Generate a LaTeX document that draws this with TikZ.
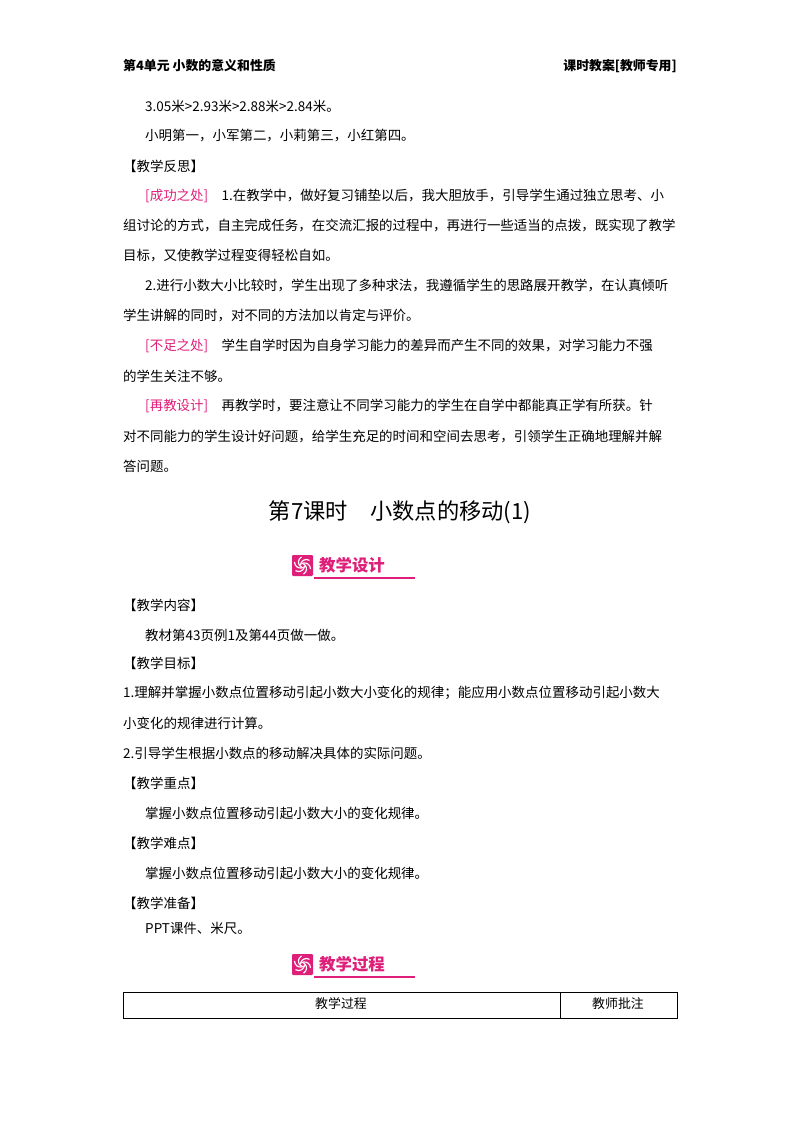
\documentclass[tikz,border=0pt]{standalone}
\usepackage{fontspec}
\setmainfont{Noto Sans CJK SC}
\definecolor{bannerpink}{RGB}{222,30,120}
\tikzset{
  body/.style={anchor=west, inner sep=0pt, font=\fontsize{11.5pt}{12pt}\selectfont},
  heading/.style={body, font=\fontsize{11pt}{12pt}\selectfont\bfseries},
  bannertext/.style={anchor=west, inner sep=0pt, text=bannerpink, font=\fontsize{14pt}{15pt}\selectfont\bfseries}
}
\newcommand{\banner}[3]{%
  \fill[bannerpink, rounded corners=1pt] (#1,#2) rectangle ++(21,21);
  \foreach \a in {0,60,...,300}
    \draw[white, line width=1pt] (#1+10.5,#2+10.5) ++(\a:2) arc[start angle=\a, end angle=\a+120, radius=6];
  \node[bannertext] (#3) at (#1+27,#2+10.5) {#3};
  \draw[bannerpink, line width=1pt] (#1+22,#2+23) -- (#1+123,#2+23);
}
\begin{document}
\begin{tikzpicture}[x=0.03cm, y=-0.03cm]
\useasboundingbox (0,0) rectangle (800,1132);
% header
\node[heading] (unit) at (123,66) {第4单元\ 小数的意义和性质};
\node[anchor=east, inner sep=0pt, font=\fontsize{11pt}{12pt}\selectfont\bfseries] (kind) at (677,66) {课时教案[教师专用]};
% previous lesson
\node[body] (cmp) at (145,106) {3.05米>2.93米>2.88米>2.84米。};
\node[body] (rank) at (145,136) {小明第一，小军第二，小莉第三，小红第四。};
\node[body] (fs) at (123,166) {【教学反思】};
\node[body] (l1) at (145,196) {\textcolor{bannerpink}{[成功之处]}\quad 1.在教学中，做好复习铺垫以后，我大胆放手，引导学生通过独立思考、小};
\node[body] (l2) at (123,226) {组讨论的方式，自主完成任务，在交流汇报的过程中，再进行一些适当的点拨，既实现了教学};
\node[body] (l3) at (123,256) {目标，又使教学过程变得轻松自如。};
\node[body] (l4) at (145,286) {2.进行小数大小比较时，学生出现了多种求法，我遵循学生的思路展开教学，在认真倾听};
\node[body] (l5) at (123,316) {学生讲解的同时，对不同的方法加以肯定与评价。};
\node[body] (l6) at (145,346) {\textcolor{bannerpink}{[不足之处]}\quad 学生自学时因为自身学习能力的差异而产生不同的效果，对学习能力不强};
\node[body] (l7) at (123,376) {的学生关注不够。};
\node[body] (l8) at (145,406) {\textcolor{bannerpink}{[再教设计]}\quad 再教学时，要注意让不同学习能力的学生在自学中都能真正学有所获。针};
\node[body] (l9) at (123,436) {对不同能力的学生设计好问题，给学生充足的时间和空间去思考，引领学生正确地理解并解};
\node[body] (l10) at (123,466) {答问题。};
% title
\node[inner sep=0pt, font=\fontsize{19pt}{21pt}\selectfont] (title) at (400,512) {第7课时\quad 小数点的移动(1)};
\banner{292}{555}{教学设计}
% design
\node[body] (nr) at (123,605) {【教学内容】};
\node[body] (nr1) at (145,635) {教材第43页例1及第44页做一做。};
\node[body] (mb) at (123,663) {【教学目标】};
\node[body] (mb1) at (123,693) {1.理解并掌握小数点位置移动引起小数大小变化的规律；能应用小数点位置移动引起小数大};
\node[body] (mb2) at (123,723) {小变化的规律进行计算。};
\node[body] (mb3) at (123,753) {2.引导学生根据小数点的移动解决具体的实际问题。};
\node[body] (zd) at (123,783) {【教学重点】};
\node[body] (zd1) at (145,813) {掌握小数点位置移动引起小数大小的变化规律。};
\node[body] (nd) at (123,843) {【教学难点】};
\node[body] (nd1) at (145,873) {掌握小数点位置移动引起小数大小的变化规律。};
\node[body] (zb) at (123,903) {【教学准备】};
\node[body] (zb1) at (145,928) {PPT课件、米尺。};
\banner{292}{954}{教学过程}
% table
\draw[line width=0.8pt] (123,992) rectangle (677,1018);
\draw[line width=0.6pt] (560,992) -- (560,1018);
\node[inner sep=0pt, font=\fontsize{11pt}{12pt}\selectfont] (gc) at (341,1004) {教学过程};
\node[inner sep=0pt, font=\fontsize{11pt}{12pt}\selectfont] (pz) at (618,1004) {教师批注};
\end{tikzpicture}
\end{document}
